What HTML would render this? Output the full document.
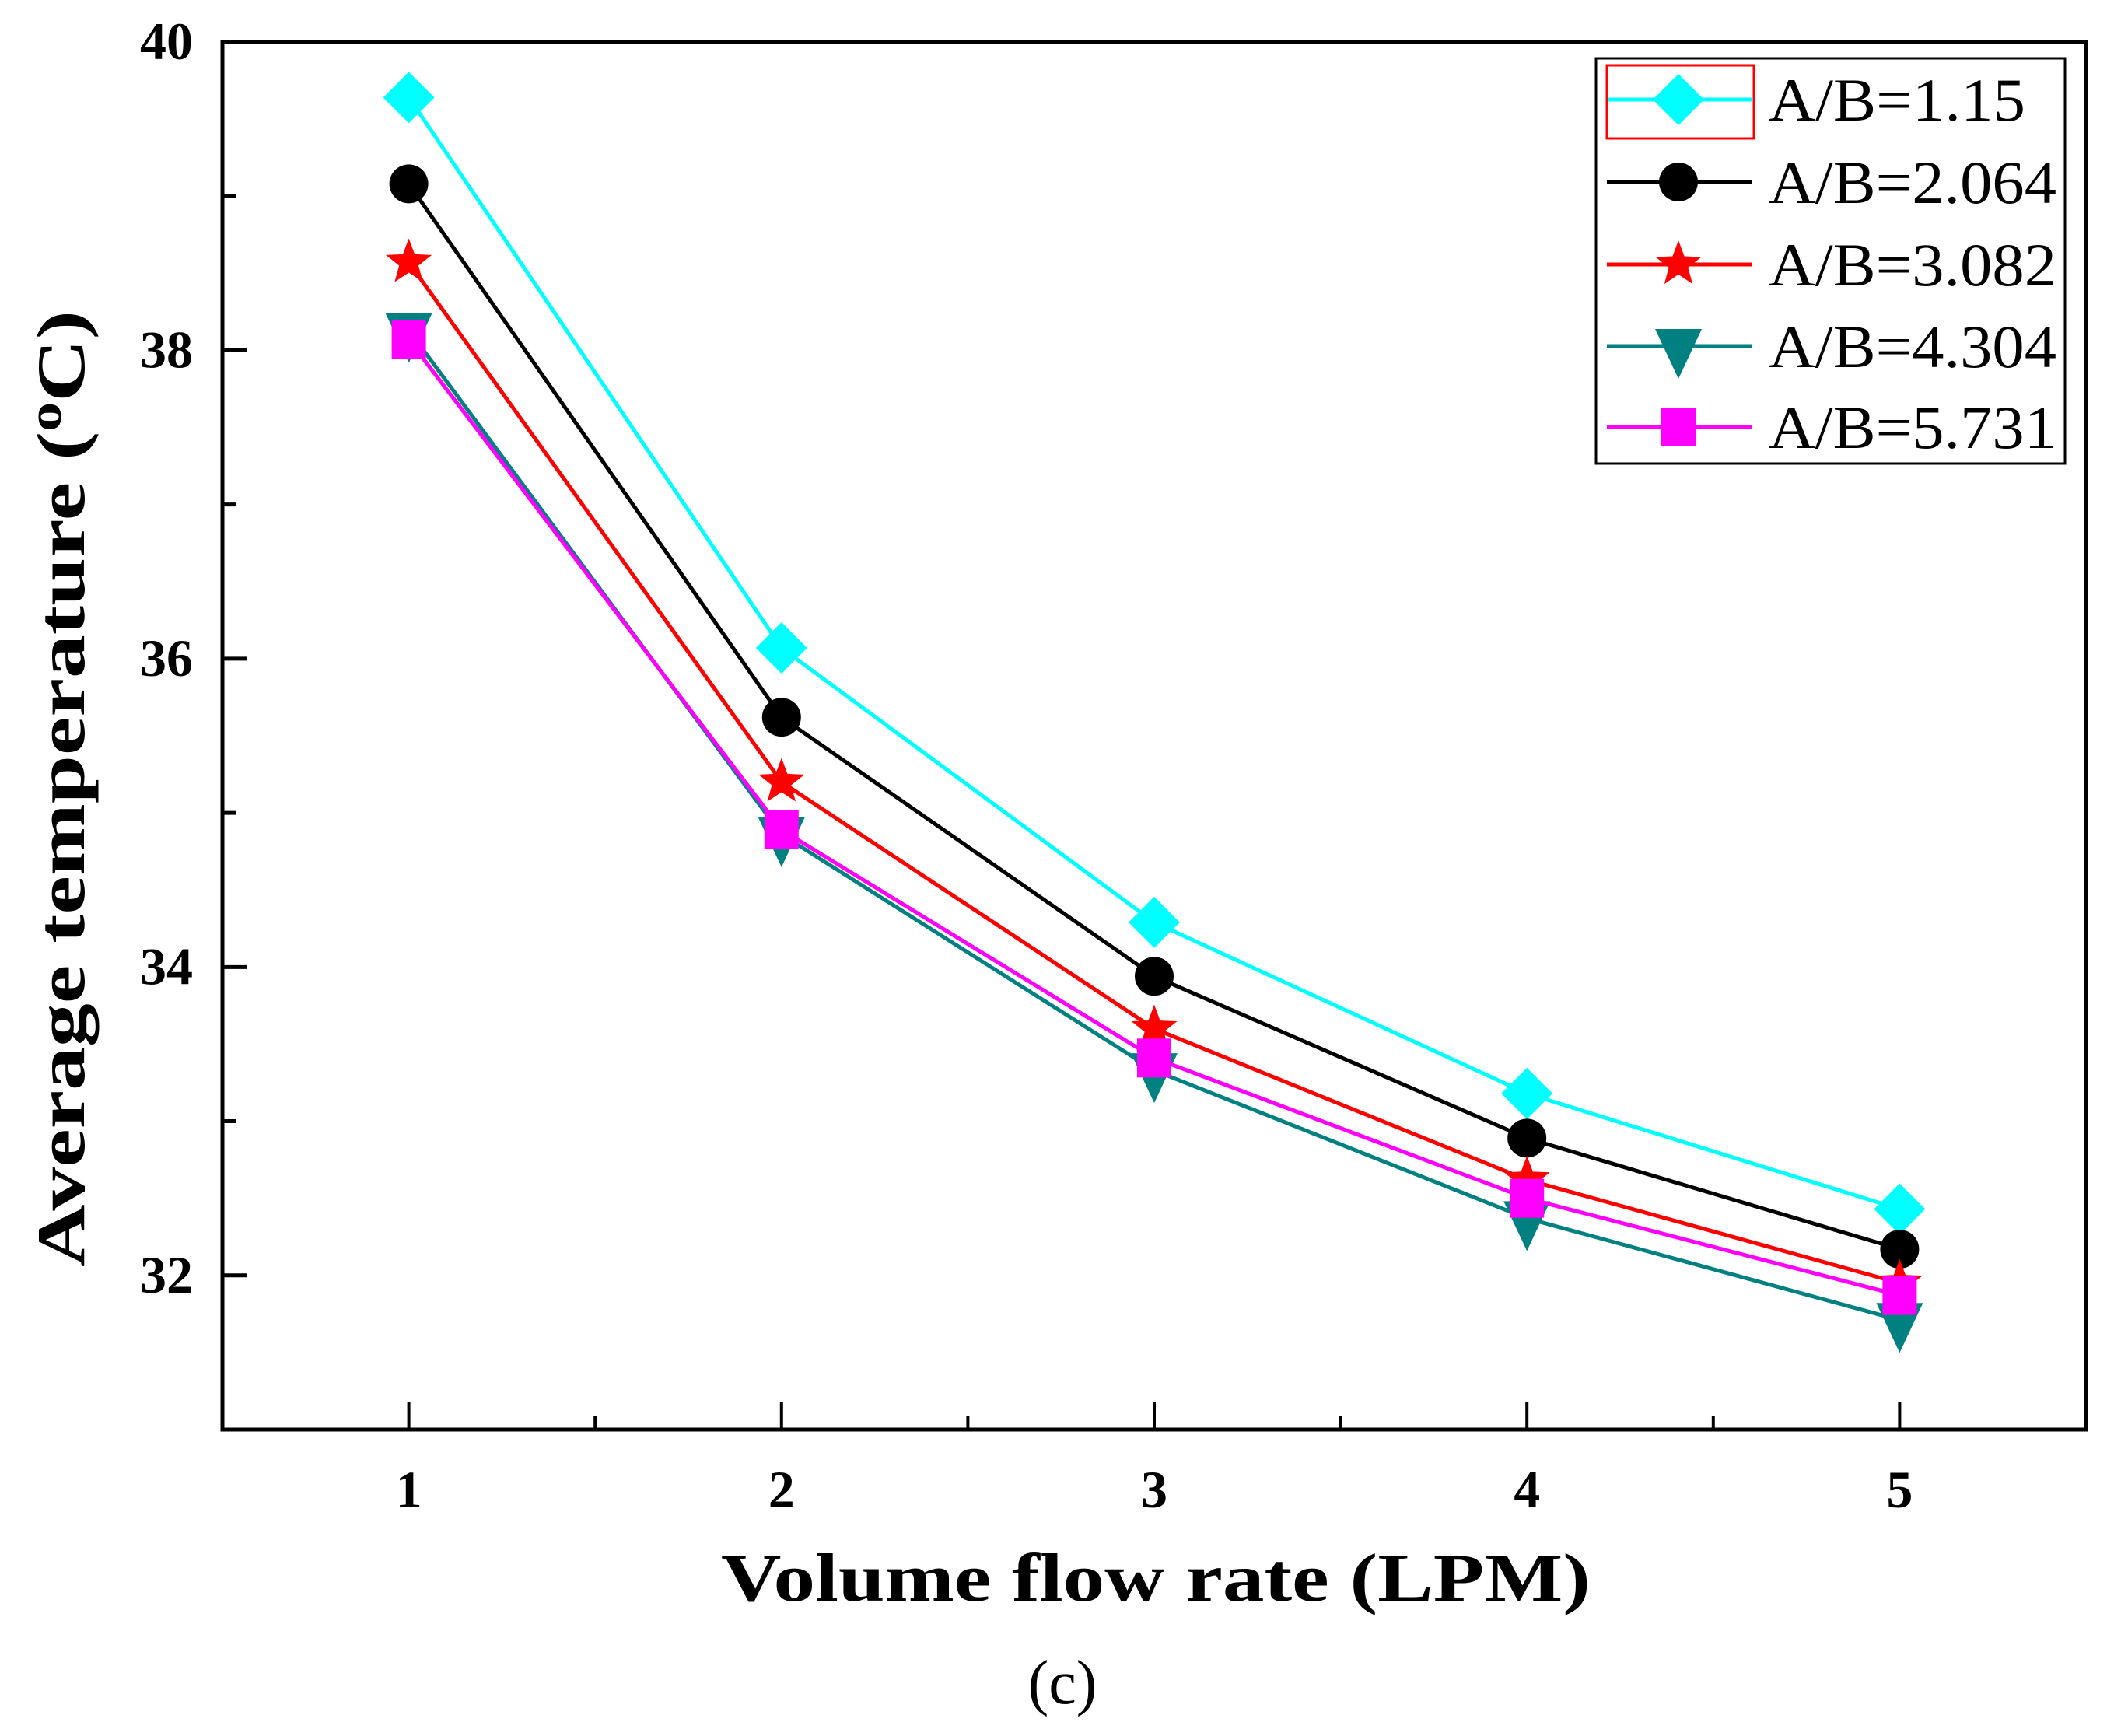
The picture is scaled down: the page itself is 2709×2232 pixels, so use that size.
<!DOCTYPE html>
<html><head><meta charset="utf-8"><style>
html,body{margin:0;padding:0;background:#fff}
svg{display:block}
text{font-family:"Liberation Serif",serif}
</style></head><body>
<svg id="chart" width="2709" height="2232" viewBox="0 0 2709 2232" xmlns="http://www.w3.org/2000/svg">
<g id="plot"></g>
</svg>
<script>
const xCategories=[1,2,3,4,5];
const seriesNames=["A/B=1.15","A/B=2.064","A/B=3.082","A/B=4.304","A/B=5.731"];
const s1=[39.64,36.07,34.29,33.18,32.43];
const s2=[39.08,35.62,33.94,32.89,32.17];
const s3=[38.57,35.20,33.60,32.62,31.95];
const s4=[38.13,34.86,33.33,32.37,31.71];
const s5=[38.07,34.89,33.41,32.50,31.87];
const yTicks=[32,34,36,38,40];
const xTickLabels=["1","2","3","4","5"];

const L=286,R=2682,T=54,B=1838;
const X0=0.5,X1=5.5,Y0=31,Y1=40;
const xs=v=>L+(v-X0)/(X1-X0)*(R-L);
const ys=v=>B-(v-Y0)/(Y1-Y0)*(B-T);
const NS="http://www.w3.org/2000/svg";
const g=document.getElementById('plot');
function mk(tag,attrs,parent){const e=document.createElementNS(NS,tag);for(const k in attrs)e.setAttribute(k,attrs[k]);(parent||g).appendChild(e);return e;}

let fr=mk('rect',{x:L,y:T,width:R-L,height:B-T,fill:'none',stroke:'#000','stroke-width':5});



yTicks.forEach(v=>{
  let t=mk('line',{x1:L,x2:L+32,y1:ys(v),y2:ys(v),stroke:'#000','stroke-width':5});
  
  
  let m=mk('line',{x1:L,x2:L+18,y1:ys(v+1),y2:ys(v+1),stroke:'#000','stroke-width':5});
  
  
  let lb=mk('text',{x:L-38,y:ys(v)+22,'text-anchor':'end','font-size':68,'font-weight':'bold'});
  lb.textContent=v;
  
  
});
xCategories.forEach((v,i)=>{
  let t=mk('line',{x1:xs(v),x2:xs(v),y1:B,y2:B-35,stroke:'#000','stroke-width':4});
  
  
  if(i<xCategories.length-1){
    let m=mk('line',{x1:xs(v+0.5),x2:xs(v+0.5),y1:B,y2:B-18,stroke:'#000','stroke-width':4});
    
    
  }
  let lb=mk('text',{x:xs(v),y:1938,'text-anchor':'middle','font-size':68,'font-weight':'bold'});
  lb.textContent=xTickLabels[i];
  
  
});

let xt=mk('text',{x:1486,y:2058,'text-anchor':'middle','font-size':88,'font-weight':'bold',textLength:1118,lengthAdjust:'spacingAndGlyphs'});
xt.textContent='Volume flow rate (LPM)';


let yt=mk('text',{transform:'translate(108,1014) rotate(-90)','text-anchor':'middle','font-size':88,'font-weight':'bold',textLength:1230,lengthAdjust:'spacingAndGlyphs'});
yt.innerHTML='Average temperature (<tspan dy="-30" font-size="60">o</tspan><tspan dy="30">C)</tspan>';


let cap=mk('text',{x:1366,y:2190,'text-anchor':'middle','font-size':80});
cap.textContent='(c)';



const colors=['#00ffff','#000000','#ff0000','#008080','#ff00ff'];
const shapes=['diamond','circle','star','tri','square'];
function marker(shape,cx,cy,col,parent){
  if(shape==='diamond')return mk('polygon',{points:`${cx},${cy-33} ${cx+33},${cy} ${cx},${cy+33} ${cx-33},${cy}`,fill:col},parent);
  if(shape==='circle')return mk('circle',{cx,cy,r:25,fill:col},parent);
  if(shape==='square')return mk('rect',{x:cx-22,y:cy-25,width:44,height:50,fill:col},parent);
  if(shape==='tri')return mk('polygon',{points:`${cx-30},${cy-22} ${cx+30},${cy-22} ${cx},${cy+42}`,fill:col},parent);
  let p=[];for(let k=0;k<10;k++){const r=k%2?13:31;const a=-Math.PI/2+k*Math.PI/5;p.push((cx+r*Math.cos(a)).toFixed(1)+','+(cy+r*Math.sin(a)).toFixed(1));}
  return mk('polygon',{points:p.join(' '),fill:col},parent);
}
const all=[s1,s2,s3,s4,s5];
[0,1,2,3,4].forEach(si=>{
  const sg=mk('g',{});
  
  
  const pts=all[si].map((v,i)=>xs(xCategories[i])+','+ys(v)).join(' ');
  const pl=mk('polyline',{points:pts,fill:'none',stroke:colors[si],'stroke-width':5},sg);
  
  
  all[si].forEach((v,i)=>{
    const m=marker(shapes[si],xs(xCategories[i]),ys(v),colors[si],sg);
    
    
  });
});

const lg=mk('g',{});


const lb=mk('rect',{x:2052,y:75,width:603,height:521,fill:'#fff',stroke:'#000','stroke-width':3},lg);


const rowY=[128,234,340,445,549];
seriesNames.forEach((n,i)=>{
  const eg=mk('g',{},lg);
  
  
  mk('line',{x1:2066,x2:2253,y1:rowY[i],y2:rowY[i],stroke:colors[i],'stroke-width':5},eg);
  marker(shapes[i],2158,rowY[i],colors[i],eg);
  const t=mk('text',{x:2274,y:rowY[i]+27,'font-size':78,textLength:370,lengthAdjust:'spacingAndGlyphs'},eg);
  if(i===0)t.setAttribute('textLength',330);
  t.textContent=n;
});
mk('rect',{x:2066,y:84,width:189,height:94,fill:'none',stroke:'#ff0000','stroke-width':3},lg);
</script>
</body></html>
